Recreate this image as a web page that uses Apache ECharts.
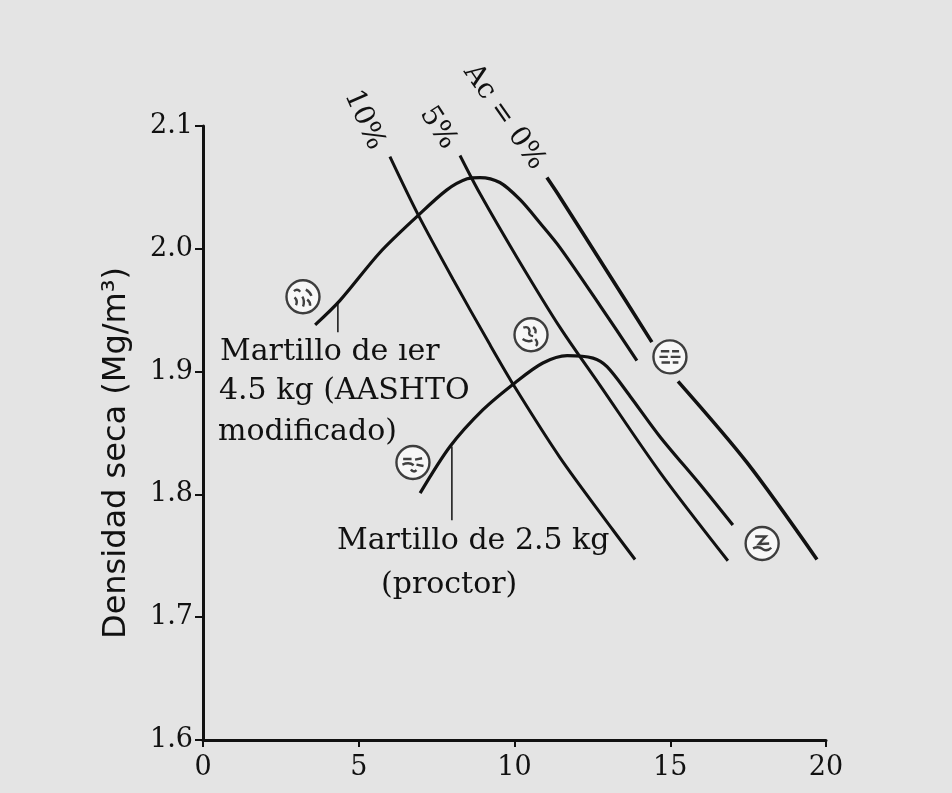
<!DOCTYPE html>
<html>
<head>
<meta charset="utf-8">
<script src="https://cdn.jsdelivr.net/npm/echarts@6/dist/echarts.min.js"></script>
<style>
html,body{margin:0;padding:0;background:#e4e4e4;}
#chart{width:952px;height:793px;}
</style>
</head>
<body>
<div id="chart"></div>
<script>
// ---- data ----
const xTicks = [0, 5, 10, 15, 20];
const yTicks = [1.6, 1.7, 1.8, 1.9, 2.0, 2.1];

// Martillo de 4.5 kg (AASHTO modificado)
const modifiedW   = [3.60, 4.40, 5.68, 6.90, 7.83, 8.48, 8.89, 9.53, 10.18, 10.82, 11.46, 12.74, 13.93];
const modifiedRho = [1.938, 1.958, 1.997, 2.027, 2.048, 2.057, 2.058, 2.054, 2.040, 2.021, 2.001, 1.954, 1.909];

// Martillo de 2.5 kg (proctor)
const proctorW   = [6.97, 7.93, 8.99, 10.02, 10.91, 11.69, 12.52, 12.97, 13.71, 14.67, 15.96, 17.01];
const proctorRho = [1.801, 1.839, 1.869, 1.891, 1.907, 1.913, 1.911, 1.904, 1.880, 1.847, 1.808, 1.775];

// Air-content lines
const air10W   = [6.00, 6.90, 8.03, 9.21, 10.02, 11.46, 13.16, 13.87];
const air10Rho = [2.075, 2.028, 1.975, 1.922, 1.887, 1.830, 1.771, 1.747];
const air5W    = [8.25, 8.89, 10.08, 11.46, 12.74, 14.67, 16.85];
const air5Rho  = [2.076, 2.045, 1.993, 1.936, 1.889, 1.818, 1.746];
const air0W    = [11.04, 11.46, 12.94, 14.41, null, 15.25, 17.46, 19.71];
const air0Rho  = [2.058, 2.042, 1.983, 1.924, null, 1.892, 1.826, 1.747];

// leader lines from the curves to their labels
const leaderModW = [4.33, 4.33];
const leaderModRho = [1.956, 1.932];
const leaderProW = [7.99, 7.99];
const leaderProRho = [1.839, 1.779];

// soil-fabric circles
const fabricW   = [3.21, 6.74, 10.53, 14.99, 17.95];
const fabricRho = [1.961, 1.826, 1.930, 1.912, 1.760];

const zip = (a, b) => a.map((v, i) => (v === null ? [null, null] : [v, b[i]]));

const CIRCLE = 'M50,3 A47,47 0 1 1 49.9,3 Z ';
const fabricPaths = [
  'path://' + CIRCLE + 'M24,34 Q34,26 42,36 M58,30 Q70,36 74,48 M26,52 Q36,62 30,74 M48,50 Q56,62 50,78 M62,58 Q72,66 70,76',
  'path://' + CIRCLE + 'M22,40 L46,40 M56,42 L76,38 M20,56 Q40,48 52,58 M60,56 L80,60 M44,70 Q52,80 60,72',
  'path://' + CIRCLE + 'M28,30 Q44,24 46,40 Q40,52 56,54 M56,28 Q66,36 62,46 M26,62 Q40,72 54,66 M62,62 Q72,74 64,82',
  'path://' + CIRCLE + 'M24,34 L48,34 M56,34 L76,34 M20,50 L44,50 M52,50 L80,50 M26,66 L50,66 M58,66 L74,66',
  'path://' + CIRCLE + 'M30,30 L60,30 Q48,42 40,52 L70,50 M24,64 Q40,56 52,66 Q64,74 76,62'
];

const ink = '#111111';
const serif = '"DejaVu Serif", "Liberation Serif", serif';
const chart = echarts.init(document.getElementById('chart'));

const lineSeries = (name, w, r, width) => ({
  name, type: 'line', data: zip(w, r), smooth: 0.3, showSymbol: false,
  connectNulls: false, silent: true,
  lineStyle: { color: ink, width: width || 3 }
});

const deg = d => d * Math.PI / 180;
const note = (text, x, y) => ({ type: 'text', x, y,
  style: { text, font: '30px ' + serif, fill: ink, textAlign: 'left', textVerticalAlign: 'middle' } });
const tilted = (text, x, y, angle) => ({ type: 'text', x, y, rotation: deg(angle),
  style: { text, font: '28px ' + serif, fill: ink, textAlign: 'center', textVerticalAlign: 'middle' } });

chart.setOption({
  backgroundColor: '#e4e4e4',
  animation: false,
  grid: { left: 203, right: 126, top: 126, bottom: 53 },
  xAxis: {
    type: 'value', min: 0, max: 20, interval: 5,
    axisLine: { show: true, lineStyle: { color: ink, width: 3 } },
    axisTick: { show: true, length: 7, lineStyle: { color: ink, width: 2 } },
    axisLabel: { color: ink, fontFamily: serif, fontSize: 27, margin: 14,
      formatter: v => (xTicks.includes(v) ? String(v) : '') },
    splitLine: { show: false }
  },
  yAxis: {
    type: 'value', min: 1.6, max: 2.1, interval: 0.1,
    name: 'Densidad seca (Mg/m³)', nameLocation: 'middle', nameGap: 70,
    nameTextStyle: { color: ink, fontFamily: '"DejaVu Sans", "Liberation Sans", sans-serif', fontSize: 32,
      padding: [0, 40, 0, 0] },
    axisLine: { show: true, lineStyle: { color: ink, width: 3 } },
    axisTick: { show: true, length: 8, lineStyle: { color: ink, width: 2 } },
    axisLabel: { color: ink, fontFamily: serif, fontSize: 27, margin: 10,
      formatter: v => {
        const t = yTicks.find(k => Math.abs(k - v) < 1e-6);
        return t === undefined ? '' : t.toFixed(1);
      } },
    splitLine: { show: false }
  },
  series: [
    lineSeries('AASHTO modificado', modifiedW, modifiedRho, 3.2),
    lineSeries('Proctor', proctorW, proctorRho, 3.2),
    lineSeries('Ac 10%', air10W, air10Rho, 3),
    lineSeries('Ac 5%', air5W, air5Rho, 3),
    lineSeries('Ac 0%', air0W, air0Rho, 3.6),
    { type: 'line', data: zip(leaderModW, leaderModRho), showSymbol: false, silent: true,
      lineStyle: { color: ink, width: 1.5 } },
    { type: 'line', data: zip(leaderProW, leaderProRho), showSymbol: false, silent: true,
      lineStyle: { color: ink, width: 1.5 } },
    { type: 'scatter', silent: true, z: 5,
      data: fabricW.map((w, i) => ({ value: [w, fabricRho[i]], symbol: fabricPaths[i] })),
      symbolSize: 33, symbolKeepAspect: true,
      itemStyle: { color: 'rgba(255,255,255,0.85)', borderColor: ink, borderWidth: 2.4 } }
  ],
  graphic: [
    note('Martillo de ıer', 220, 352),
    note('4.5 kg (AASHTO', 219, 391),
    note('modificado)', 218, 432),
    note('Martillo de 2.5 kg', 337, 541),
    note('(proctor)', 381, 585),
    tilted('10%', 364, 120, -66),
    tilted('5%', 438, 128, -57),
    tilted('Ac = 0%', 504, 117, -55)
  ]
});
</script>
</body>
</html>
